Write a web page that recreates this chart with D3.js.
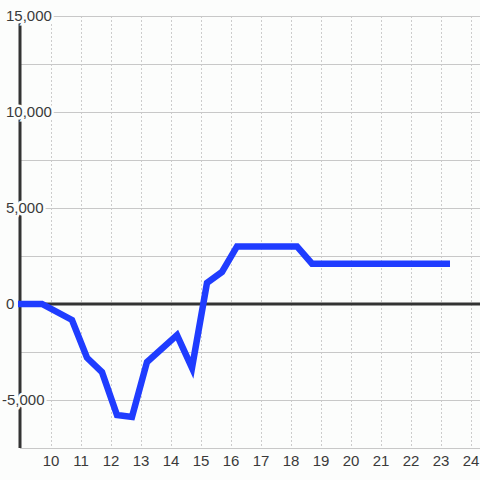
<!DOCTYPE html>
<html>
<head>
<meta charset="utf-8">
<script src="https://cdn.jsdelivr.net/npm/d3@7"></script>
<style>
  html, body { margin: 0; padding: 0; background: #fcfdfc; }
  svg { display: block; font-family: "Liberation Sans", Arial, sans-serif; }
</style>
</head>
<body>
<svg id="chart" width="480" height="480"></svg>
<script>
// hours of the day and running balance
const hours = [8.9, 9.7, 10.7, 11.2, 11.7, 12.2, 12.7, 13.2, 14.2, 14.7, 15.2, 15.7, 16.2, 18.2, 18.7, 23.3];
const balance = [0, 0, -830, -2800, -3550, -5780, -5880, -3020, -1620, -3330, 1100, 1670, 3000, 3000, 2100, 2100];

const xTicks = [10, 11, 12, 13, 14, 15, 16, 17, 18, 19, 20, 21, 22, 23, 24];
const yGrid = [-7500, -5000, -2500, 0, 2500, 5000, 7500, 10000, 12500, 15000];
const yLabels = [-5000, 0, 5000, 10000, 15000];

const bg = "#fcfdfc";
const textColor = "#3a3a3a";

const svg = d3.select("#chart");

const x = d3.scaleLinear().domain([8.967, 24.3]).range([20, 480]);
const y = d3.scaleLinear().domain([-7500, 15000]).range([448, 16]);

// vertical dashed grid
svg.append("g")
  .selectAll("line")
  .data(xTicks)
  .join("line")
  .attr("x1", d => Math.round(x(d)) + 0.5)
  .attr("x2", d => Math.round(x(d)) + 0.5)
  .attr("y1", y(15000))
  .attr("y2", y(-7500))
  .attr("stroke", "#cccccc")
  .attr("stroke-dasharray", "2,2");

// horizontal grid
svg.append("g")
  .selectAll("line")
  .data(yGrid.filter(d => d !== 0))
  .join("line")
  .attr("x1", 20)
  .attr("x2", 480)
  .attr("y1", d => Math.round(y(d)) + 0.5)
  .attr("y2", d => Math.round(y(d)) + 0.5)
  .attr("stroke", "#c8c8c8");

// y axis and zero line
svg.append("line")
  .attr("x1", 20).attr("x2", 20)
  .attr("y1", y(15000)).attr("y2", y(-7500))
  .attr("stroke", "#333").attr("stroke-width", 3);

svg.append("line")
  .attr("x1", 20).attr("x2", 480)
  .attr("y1", y(0)).attr("y2", y(0))
  .attr("stroke", "#333").attr("stroke-width", 3);

// y labels with halo, minus sign hanging left
const fmt = d3.format(",");
svg.append("g")
  .selectAll("text")
  .data(yLabels)
  .join("text")
  .attr("x", d => d < 0 ? 2 : 6)
  .attr("y", d => y(d))
  .attr("dy", "0.35em")
  .attr("font-size", 15)
  .attr("fill", textColor)
  .attr("stroke", bg)
  .attr("stroke-width", 5)
  .attr("paint-order", "stroke")
  .text(d => fmt(d).replace("−", "-"));

// x labels
svg.append("g")
  .selectAll("text")
  .data(xTicks)
  .join("text")
  .attr("x", d => x(d))
  .attr("y", 466)
  .attr("text-anchor", "middle")
  .attr("font-size", 15)
  .attr("fill", textColor)
  .text(d => d);

// balance line
const line = d3.line()
  .x((d, i) => x(hours[i]))
  .y(d => y(d));

svg.append("path")
  .datum(balance)
  .attr("d", line)
  .attr("fill", "none")
  .attr("stroke", "#1f3cff")
  .attr("stroke-width", 6.5)
  .attr("stroke-linejoin", "miter")
  .attr("stroke-linecap", "butt");
</script>
</body>
</html>
